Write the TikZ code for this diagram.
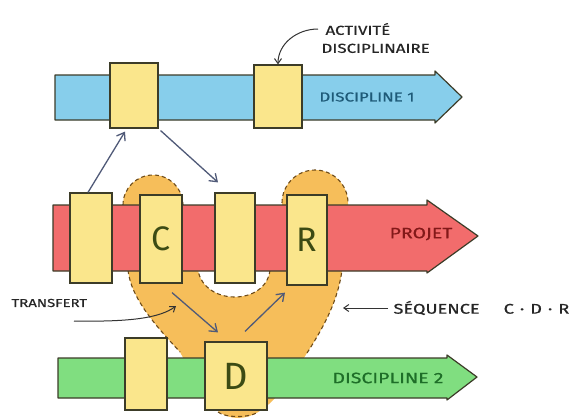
\documentclass[tikz,border=0pt]{standalone}
\usepackage{fontspec}
\setmainfont{Fira Sans}
\newfontfamily\widefont[FakeStretch=1.3,FakeBold=0.6]{Fira Sans}
\usetikzlibrary{arrows.meta}
\definecolor{bluefill}{RGB}{135,206,235}
\definecolor{redfill}{RGB}{242,108,108}
\definecolor{greenfill}{RGB}{128,222,128}
\definecolor{yellowfill}{RGB}{250,230,140}
\definecolor{orangefill}{RGB}{246,190,90}
\definecolor{outline}{RGB}{60,60,40}
\definecolor{dashcol}{RGB}{110,75,25}
\definecolor{arrowcol}{RGB}{80,90,120}
\definecolor{bluetext}{RGB}{30,90,120}
\definecolor{redtext}{RGB}{130,25,25}
\definecolor{greentext}{RGB}{30,110,40}
\definecolor{lettercol}{RGB}{60,75,20}
\begin{document}
\begin{tikzpicture}[x=1pt,y=-1pt,
  bar/.style={draw=outline,line width=1.2pt,line join=round},
  box/.style={draw=outline,fill=yellowfill,line width=1.2pt,rectangle,inner sep=0pt},
  blob/.style={fill=orangefill},
  blobline/.style={draw=dashcol,line width=1.1pt,dash pattern=on 4pt off 3pt},
  link/.style={draw=arrowcol,line width=1.3pt,-{Straight Barb[length=7pt,width=10pt]}},
  note/.style={draw=black!80,line width=1pt,-{Straight Barb[length=5pt,width=7pt]}},
  letter/.style={font=\fontsize{34}{36}\selectfont,text=lettercol},
  barlabel/.style={font=\widefont\fontsize{13}{15}\selectfont},
  anno/.style={font=\widefont\fontsize{13}{18}\selectfont,text=black!85,align=left}]
\useasboundingbox (0,0) rectangle (571,418);
\fill[white] (0,0) rectangle (571,418);

% orange sequence blob
\fill[blob] (123,208) -- (123,205) arc[start angle=180,end angle=360,radius=30] -- (183,208) -- cycle;
\draw[blobline] (123,205) arc[start angle=180,end angle=360,radius=30];
\fill[blob] (282,208) -- (282,203) arc[start angle=180,end angle=360,radius=33] -- (348,208) -- cycle;
\draw[blobline] (282,203) arc[start angle=180,end angle=360,radius=33];
\fill[blob] (128,270) .. controls (131,300) and (160,330) .. (180,352)
  .. controls (198,385) and (210,418) .. (238,418)
  .. controls (266,418) and (287,385) .. (307,353)
  .. controls (325,325) and (338,300) .. (342,270)
  -- (270,270) .. controls (266,306) and (204,306) .. (198,270) -- cycle;
\draw[blobline] (128,270) .. controls (131,300) and (160,330) .. (180,352);
\draw[blobline] (307,353) .. controls (325,325) and (338,300) .. (342,270);
\draw[blobline] (270,270) .. controls (266,306) and (204,306) .. (198,270);
\draw[blobline] (218,412) .. controls (225,418) and (250,418) .. (258,412);

% bars
\draw[bar,fill=bluefill] (55,75) -- (435,75) -- (435,71) -- (462,97) -- (435,123) -- (435,120) -- (55,120) -- cycle;
\draw[bar,fill=redfill] (53,205) -- (427,205) -- (427,200) -- (478,236) -- (427,273) -- (427,271) -- (53,271) -- cycle;
\draw[bar,fill=greenfill] (58,358) -- (447,358) -- (447,355) -- (477,377) -- (447,400) -- (447,398) -- (58,398) -- cycle;

\node[barlabel,text=bluetext] (d1) at (367,97) {DISCIPLINE 1};
\node[barlabel,text=redtext,font=\widefont\fontsize{15}{17}\selectfont] (pj) at (421,234) {PROJET};
\node[barlabel,text=greentext,font=\widefont\fontsize{15}{17}\selectfont] (d2) at (388,378) {DISCIPLINE 2};

% boxes
\node[box,minimum width=48pt,minimum height=65pt] (b1) at (134,95.5) {};
\node[box,minimum width=48pt,minimum height=63pt] (b2) at (278,96.5) {};
\node[box,minimum width=42pt,minimum height=90pt] (r1) at (91,238) {};
\node[box,minimum width=42pt,minimum height=88pt,letter] (rC) at (161,239) {C};
\node[box,minimum width=40pt,minimum height=90pt] (r3) at (235,238) {};
\node[box,minimum width=40pt,minimum height=90pt,letter] (rR) at (307,240) {R};
\node[box,minimum width=42pt,minimum height=72pt] (g1) at (146,374) {};
\node[box,minimum width=62pt,minimum height=68pt,letter,font=\fontsize{38}{40}\selectfont] (gD) at (236,376) {D};

% connectors
\draw[link] ([xshift=-3pt]r1.north) -- ([xshift=-9pt,yshift=-3pt]b1.south);
\draw[link] ([xshift=2pt,yshift=-2pt]b1.south east) -- ([xshift=-17pt,yshift=10pt]r3.north);
\draw[link] ([xshift=11pt,yshift=-9pt]rC.south) -- ([xshift=-18pt,yshift=9pt]gD.north);
\draw[link] ([xshift=9pt,yshift=10pt]gD.north) -- ([xshift=-22pt,yshift=-7pt]rR.south);

% annotations
\node[anno,anchor=west] (act) at (318,38) {\hspace*{4pt}ACTIVITÉ\\DISCIPLINAIRE};
\draw[note] ([yshift=9pt]act.west) to[out=180,in=90] (b2.north);
\node[anno,anchor=west,font=\widefont\fontsize{11.5}{13}\selectfont] (tr) at (8,303) {TRANSFERT};
\coordinate (tr0) at (74,321);
\coordinate (tr1) at (176,306);
\draw[note] (tr0) .. controls (130,322) and (160,318) .. (tr1);
\node[anno,anchor=west,font=\widefont\fontsize{14}{16}\selectfont] (seq) at (390,308) {SÉQUENCE\hspace{24pt}C\hspace{6pt}·\hspace{6pt}D\hspace{6pt}·\hspace{6pt}R};
\coordinate (seqend) at (343,308);
\draw[note] ([xshift=-2pt]seq.west) -- (seqend);
\end{tikzpicture}
\end{document}
